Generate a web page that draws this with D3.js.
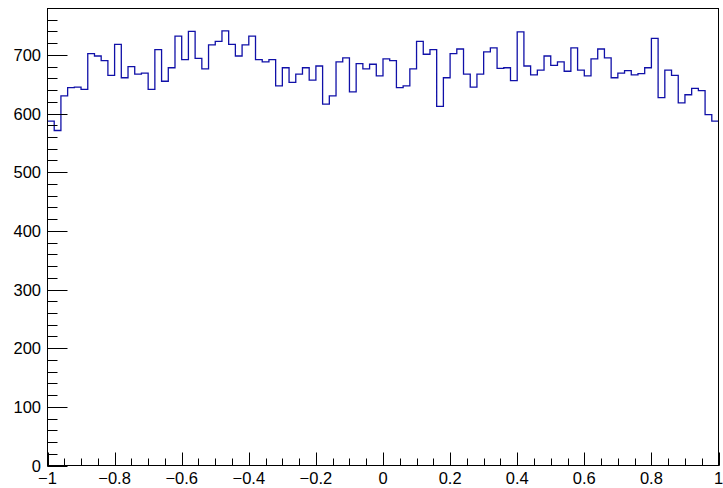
<!DOCTYPE html>
<html><head><meta charset="utf-8">
<script src="https://cdn.jsdelivr.net/npm/d3@7"></script>
<style>body{margin:0;background:#fff;}svg{display:block;}</style>
</head><body>
<script>
const xMin = -1, xMax = 1, nBins = 100;
const yMax = 779;
const counts = [
 587,571,630,644,645,641,702,698,690,665,
 718,661,680,667,669,641,709,655,678,732,
 692,740,694,676,717,723,741,718,698,717,
 732,692,688,692,647,678,653,667,678,657,
 681,616,630,688,695,637,685,676,684,664,
 693,690,644,647,676,723,701,709,612,661,
 702,710,667,645,667,705,712,677,678,656,
 739,681,666,674,698,682,688,672,712,674,
 664,693,710,695,661,669,673,666,668,678,
 728,627,674,665,618,632,643,639,598,587
];
const xTickValues = [-1,-0.8,-0.6,-0.4,-0.2,0,0.2,0.4,0.6,0.8,1];
const xTickLabels = ["\u22121","\u22120.8","\u22120.6","\u22120.4","\u22120.2","0","0.2","0.4","0.6","0.8","1"];
const yTickValues = [0,100,200,300,400,500,600,700];

const W = 723, H = 488;
const L = 47.5, R = 718.5, T = 8.5, B = 465.5;

const svg = d3.select("body").append("svg").attr("width", W).attr("height", H);
const x = d3.scaleLinear().domain([xMin, xMax]).range([L, R]);
const y = d3.scaleLinear().domain([0, yMax]).range([B, T]);

const binW = (xMax - xMin) / nBins;
let pts = [];
counts.forEach((c, i) => {
  const x0 = xMin + i * binW, x1 = x0 + binW;
  pts.push([x(x0), y(c)]);
  pts.push([x(x1), y(c)]);
});
svg.append("path")
  .attr("d", d3.line()(pts))
  .attr("fill", "none")
  .attr("stroke", "#1010a8")
  .attr("stroke-width", 1.3);

const font = "'Liberation Sans', Arial, Helvetica, sans-serif";

const xMinor = d3.range(0, 41).map(i => xMin + i * 0.05);
const xAxis = svg.append("g");
xAxis.selectAll("line.mi").data(xMinor).enter().append("line")
  .attr("x1", d => Math.round(x(d)) + 0.5).attr("x2", d => Math.round(x(d)) + 0.5)
  .attr("y1", B).attr("y2", B - 7).attr("stroke", "#000");
xAxis.selectAll("line.ma").data(xTickValues).enter().append("line")
  .attr("x1", d => Math.round(x(d)) + 0.5).attr("x2", d => Math.round(x(d)) + 0.5)
  .attr("y1", B).attr("y2", B - 13).attr("stroke", "#000");
xAxis.selectAll("text").data(xTickValues).enter().append("text")
  .attr("x", d => x(d)).attr("y", 484)
  .attr("text-anchor", "middle")
  .attr("font-family", font).attr("font-size", 16.5)
  .text((d, i) => xTickLabels[i]);

const yMinor = d3.range(0, yMax + 0.001, 20);
const yAxis = svg.append("g");
yAxis.selectAll("line.mi").data(yMinor).enter().append("line")
  .attr("y1", d => Math.round(y(d)) + 0.5).attr("y2", d => Math.round(y(d)) + 0.5)
  .attr("x1", L).attr("x2", L + 10).attr("stroke", "#000");
yAxis.selectAll("line.ma").data(yTickValues).enter().append("line")
  .attr("y1", d => Math.round(y(d)) + 0.5).attr("y2", d => Math.round(y(d)) + 0.5)
  .attr("x1", L).attr("x2", L + 20).attr("stroke", "#000");
yAxis.selectAll("text").data(yTickValues).enter().append("text")
  .attr("x", 41).attr("y", d => y(d) + 6)
  .attr("text-anchor", "end")
  .attr("font-family", font).attr("font-size", 16.5)
  .text(d => d);

svg.append("rect").attr("x", L).attr("y", T).attr("width", R - L).attr("height", B - T)
  .attr("fill", "none").attr("stroke", "#000");
</script>
</body></html>
